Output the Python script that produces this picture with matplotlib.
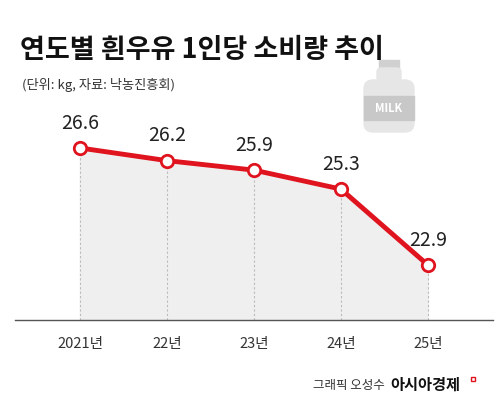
import matplotlib.pyplot as plt
from matplotlib.patches import FancyBboxPatch, Rectangle
from matplotlib.transforms import Affine2D

plt.rcParams['font.family'] = ['Noto Sans CJK KR', 'DejaVu Sans']

years = ["2021년", "22년", "23년", "24년", "25년"]
values = [26.6, 26.2, 25.9, 25.3, 22.9]

W, H = 500, 412
fig = plt.figure(figsize=(W / 100, H / 100), dpi=100)
ax = fig.add_axes([0, 0, 1, 1])
ax.set_xlim(-0.92, 4.83)
ax.set_ylim(18.25, 31.28)
ax.axis("off")

x = list(range(len(values)))
base = 21.16
ax.fill_between(x, values, base, color="#efefef", zorder=1)
for xi, v in zip(x, values):
    ax.plot([xi, xi], [base, v], color="#bbbbbb", lw=0.8, ls=(0, (2, 2)), zorder=2)
ax.plot([-0.75, 4.75], [base, base], color="#555555", lw=1, zorder=2)
ax.plot(x, values, color="#e0141e", lw=3.5, zorder=3)
ax.scatter(x, values, s=80, facecolor="white", edgecolor="#e0141e", linewidths=2, zorder=4)
for xi, v in zip(x, values):
    ax.text(xi, v + 0.45, f"{v}", ha="center", va="bottom", fontsize=14, color="#222222", zorder=5)
for xi, lab in zip(x, years):
    ax.text(xi, base - 0.55, lab, ha="center", va="top", fontsize=10.5, color="#333333")

# pixel transform (origin top-left)
px = Affine2D().scale(1 / W, -1 / H).translate(0, 1) + fig.transFigure

fig.text(20 / W, 1 - 50 / H, "연도별 흰우유 1인당 소비량 추이", fontsize=19.5, fontweight="bold",
         va="center", color="#111111")
fig.text(22 / W, 1 - 85 / H, "(단위: kg, 자료: 낙농진흥회)", fontsize=9.5, va="center", color="#333333")

# milk bottle
ax.add_patch(Rectangle((379, 60), 20, 8, transform=px, color="#d0d0d0", zorder=5))
ax.add_patch(FancyBboxPatch((377, 68), 24, 14, boxstyle="round,pad=0,rounding_size=4",
                            transform=px, color="#e6e6e6", zorder=5))
ax.add_patch(FancyBboxPatch((364, 80), 50, 52, boxstyle="round,pad=0,rounding_size=9",
                            transform=px, color="#e6e6e6", zorder=5))
ax.add_patch(Rectangle((364, 96), 50, 24, transform=px, color="#c8c8c8", zorder=6))
ax.text(389, 108, "MILK", transform=px, ha="center", va="center", fontsize=8,
        fontweight="bold", color="white", zorder=7)

fig.text(385 / W, 1 - 385 / H, "그래픽 오성수", fontsize=9, ha="right", va="center", color="#333333")
fig.text(390 / W, 1 - 385 / H, "아시아경제", fontsize=11, fontweight="bold", ha="left", va="center", color="#111111")
ax.add_patch(Rectangle((471, 377), 4, 4, transform=px, facecolor="none", edgecolor="#e0141e", lw=1))

fig.savefig("out.png", dpi=100)
